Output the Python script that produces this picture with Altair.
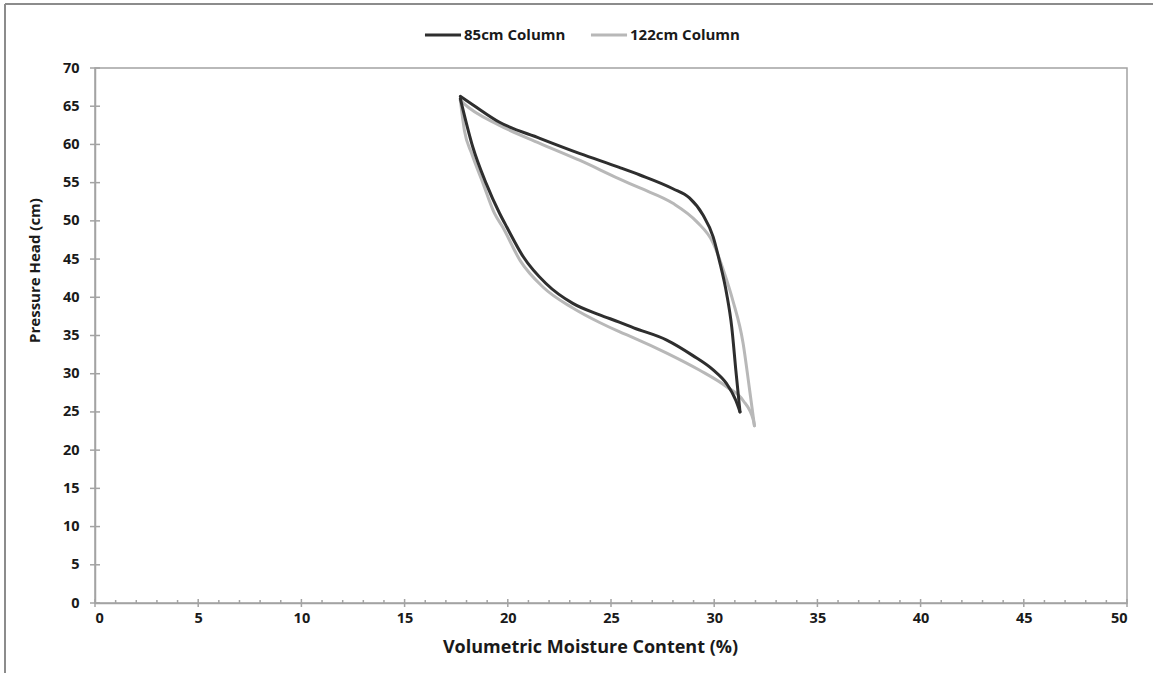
import altair as alt
import pandas as pd

# Hysteresis loops: upper (drying) and lower (wetting) branches, top-left to bottom-right
x_85_upper = [17.7, 18.3, 19.6, 21.55, 23.5, 25.4, 26.4, 28.0, 28.8, 29.45, 29.95, 30.25, 30.6, 30.85, 31.05, 31.25]
y_85_upper = [66.3, 65.2, 62.9, 60.8, 58.8, 57.0, 56.0, 54.2, 53.0, 50.8, 47.9, 44.8, 40.5, 36.1, 30.4, 25.0]
x_85_lower = [17.7, 18.3, 18.95, 19.6, 19.95, 20.75, 21.85, 23.15, 24.45, 25.4, 26.1, 27.7, 28.95, 29.95, 30.6, 31.05, 31.25]
y_85_lower = [66.0, 59.7, 54.9, 51.0, 49.2, 45.3, 41.8, 39.2, 37.7, 36.75, 36.0, 34.4, 32.4, 30.5, 28.7, 26.5, 25.0]

x_122_upper = [17.7, 17.85, 19.6, 21.55, 23.5, 25.4, 26.4, 28.0, 29.15, 29.95, 30.5, 30.9, 31.4, 31.7, 31.95]
y_122_upper = [65.8, 65.4, 62.5, 60.15, 57.9, 55.5, 54.3, 52.3, 49.9, 47.1, 43.1, 39.6, 34.0, 28.2, 23.2]
x_122_lower = [17.7, 17.9, 18.25, 18.8, 19.35, 19.75, 20.6, 21.7, 23.15, 24.45, 25.4, 26.1, 27.7, 29.3, 30.6, 31.4, 31.9, 31.95]
y_122_lower = [65.8, 61.8, 58.8, 54.9, 51.0, 49.2, 44.8, 41.35, 38.6, 36.7, 35.5, 34.7, 32.7, 30.45, 28.3, 26.5, 23.9, 23.2]

series_names = ["85cm Column", "122cm Column"]
series_colors = ["#2e2e2e", "#b8b8b8"]

x_major = list(range(0, 51, 5))
x_minor = [v for v in range(0, 51) if v % 5]
y_major = list(range(0, 71, 5))

rows = []
for name, branch, xs, ys in [
    ("85cm Column", "upper", x_85_upper, y_85_upper),
    ("85cm Column", "lower", x_85_lower, y_85_lower),
    ("122cm Column", "upper", x_122_upper, y_122_upper),
    ("122cm Column", "lower", x_122_lower, y_122_lower),
]:
    for i, (xv, yv) in enumerate(zip(xs, ys)):
        rows.append({"series": name, "branch": name + branch, "idx": i, "x": xv, "y": yv})
df = pd.DataFrame(rows)

W, H = 1032, 535
AXIS_GRAY = "#a3a3a3"
FONT = "Open Sans"

x_scale = alt.Scale(domain=[0, 50], nice=False, zero=False)
y_scale = alt.Scale(domain=[0, 70], nice=False, zero=False)

x_axis = alt.Axis(
    values=x_major, ticks=False, grid=False, domainColor=AXIS_GRAY, domainWidth=1.5,
    labelPadding=8, title="Volumetric Moisture Content (%)", titlePadding=14,
    titleFontSize=18, titleX=495,
)
y_axis = alt.Axis(
    values=y_major, ticks=False, grid=False, domainColor=AXIS_GRAY, domainWidth=1.5,
    labelPadding=16, title="Pressure Head (cm)", titlePadding=20, titleY=202,
)

color = alt.Color(
    "series:N",
    scale=alt.Scale(domain=series_names, range=series_colors),
    legend=alt.Legend(
        title=None, orient="none", direction="horizontal", legendX=328, legendY=-53,
        symbolType="stroke", symbolSize=1300, symbolStrokeWidth=3, symbolOffset=0,
        labelOffset=1, columnPadding=18, padding=0,
        labelFont=FONT, labelFontSize=15, labelFontWeight="bold", labelColor="#1a1a1a",
    ),
)


def loop_layer(name):
    return (
        alt.Chart(df)
        .transform_filter(alt.datum.series == name)
        .mark_line(interpolate="monotone", strokeWidth=3, strokeCap="round")
        .encode(
            x=alt.X("x:Q", scale=x_scale, axis=x_axis),
            y=alt.Y("y:Q", scale=y_scale, axis=y_axis),
            color=color,
            detail="branch:N",
            order="idx:Q",
        )
    )


# Axis tick marks: major ticks cross the axis line, minor ticks sit inside
x_major_ticks = alt.Chart(pd.DataFrame({"x": x_major})).mark_rule(color=AXIS_GRAY, strokeWidth=1.5).encode(
    x=alt.X("x:Q", scale=x_scale, axis=x_axis), y=alt.value(H - 4), y2=alt.value(H + 4)
)
x_minor_ticks = alt.Chart(pd.DataFrame({"x": x_minor})).mark_rule(color=AXIS_GRAY, strokeWidth=1.5).encode(
    x=alt.X("x:Q", scale=x_scale, axis=x_axis), y=alt.value(H - 3), y2=alt.value(H)
)
y_major_ticks = alt.Chart(pd.DataFrame({"y": y_major})).mark_rule(color=AXIS_GRAY, strokeWidth=1.5).encode(
    y=alt.Y("y:Q", scale=y_scale, axis=y_axis), x=alt.value(-5), x2=alt.value(5)
)

# Outer frame (left and top edges)
frame_left = alt.Chart(alt.Data(values=[{}])).mark_rule(color="#8c8c8c", strokeWidth=2).encode(
    x=alt.value(-90), y=alt.value(-64), y2=alt.value(H + 80)
)
frame_top = alt.Chart(alt.Data(values=[{}])).mark_rule(color="#8c8c8c", strokeWidth=2).encode(
    x=alt.value(-90), x2=alt.value(W + 40), y=alt.value(-64)
)

chart = (
    alt.layer(
        frame_left, frame_top,
        x_minor_ticks, x_major_ticks, y_major_ticks,
        loop_layer("122cm Column"), loop_layer("85cm Column"),
    )
    .properties(
        width=W, height=H,
        autosize=alt.AutoSizeParams(type="none"),
        padding={"left": 95, "top": 68, "right": 26, "bottom": 70},
        background="white",
    )
    .configure_view(stroke=AXIS_GRAY, strokeWidth=1.5)
    .configure_axis(
        labelFont=FONT, labelFontSize=14.5, labelFontWeight="bold", labelColor="#1a1a1a",
        titleFont=FONT, titleFontSize=15, titleFontWeight="bold", titleColor="#1a1a1a",
    )
)

chart.save("out.html", embed_options={"renderer": "svg", "actions": False})
